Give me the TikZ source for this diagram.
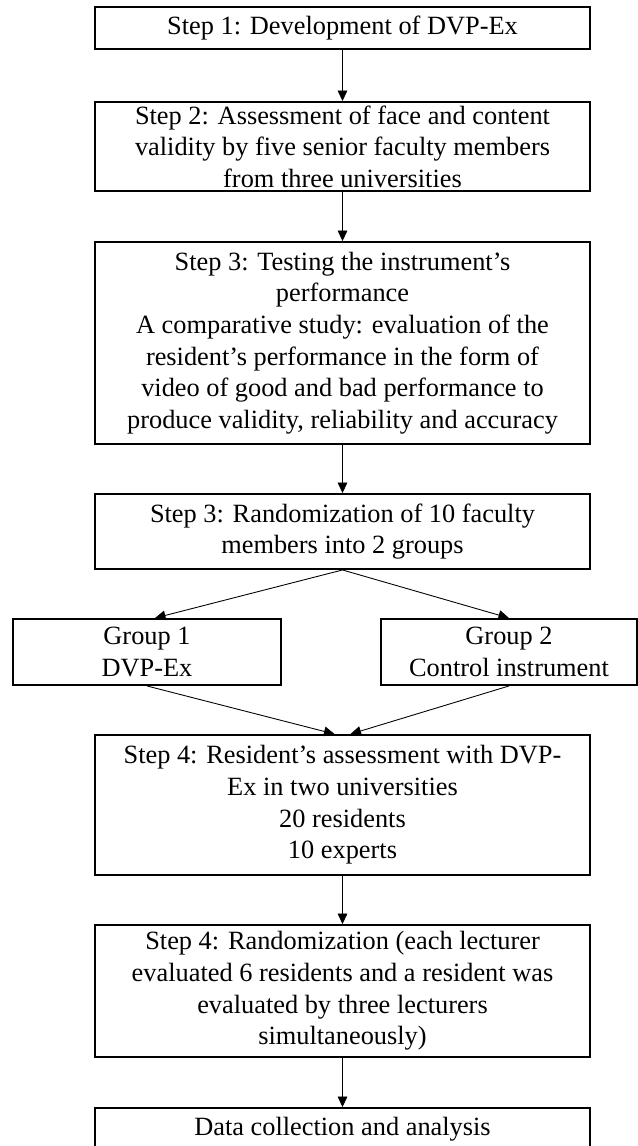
\documentclass[tikz,border=0pt]{standalone}
\usepackage{fontspec}
\setmainfont{Liberation Serif}
\usetikzlibrary{arrows.meta}

\tikzset{
	stepbox/.style={draw, line width=1.1pt, minimum width=9.9cm, align=center, inner sep=0pt, font=\fontsize{15}{18}\selectfont},
	groupbox/.style={stepbox, minimum width=5.36cm},
	flow/.style={-{Triangle[length=6pt,width=5.5pt]}, line width=0.5pt}
}

\begin{document}
\begin{tikzpicture}[x=0.02cm, y=-0.02cm]
		\clip (0,0) rectangle (638,1146);
		% Steps
		\node[stepbox, minimum height=0.84cm] (dev) at (342.5,28) {Step 1: Development of DVP-Ex};
		\node[stepbox, minimum height=1.78cm] (face) at (342.5,146.5) {Step 2: Assessment of face and content\\validity by five senior faculty members\\from three universities};
		\node[stepbox, minimum height=4.04cm] (test) at (342.5,343) {Step 3: Testing the instrument’s\\performance\\A comparative study: evaluation of the\\resident’s performance in the form of\\video of good and bad performance to\\produce validity, reliability and accuracy};
		\node[stepbox, minimum height=1.5cm] (rand) at (342.5,531.5) {Step 3: Randomization of 10 faculty\\members into 2 groups};
		% Groups
		\node[groupbox, minimum height=1.32cm] (grp1) at (147,652) {Group 1\\DVP-Ex};
		\node[groupbox, minimum height=1.32cm, minimum width=5.12cm] (grp2) at (509,652) {Group 2\\Control instrument};
		% Assessment
		\node[stepbox, minimum height=2.8cm] (assess) at (342.5,805) {Step 4: Resident’s assessment with DVP-\\Ex in two universities\\20 residents\\10 experts};
		\node[stepbox, minimum height=2.64cm] (lect) at (342.5,991) {Step 4: Randomization (each lecturer\\evaluated 6 residents and a resident was\\evaluated by three lecturers\\simultaneously)};
		\node[stepbox, minimum height=0.84cm] (data) at (342.5,1129) {Data collection and analysis};
		% Arrows
		\draw[flow] (dev.south) -- (face.north);
		\draw[flow] (face.south) -- (test.north);
		\draw[flow] (test.south) -- (rand.north);
		\draw[flow] (rand.south) -- ([xshift=0.16cm]grp1.north);
		\draw[flow] (rand.south) -- (grp2.north);
		\draw[flow] (grp1.south) -- ([xshift=-0.16cm]assess.north);
		\draw[flow] (grp2.south) -- ([xshift=0.16cm]assess.north);
		\draw[flow] (assess.south) -- (lect.north);
		\draw[flow] (lect.south) -- (data.north);
	\end{tikzpicture}
\end{document}
